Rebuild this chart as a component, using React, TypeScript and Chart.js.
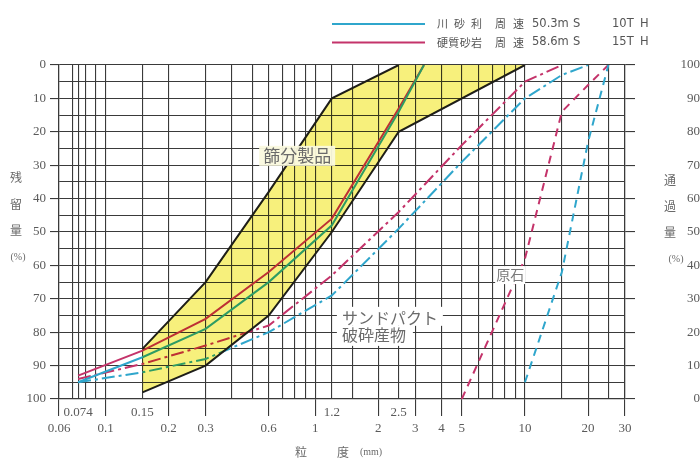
import React, { useEffect, useRef } from 'react';
import { Chart, registerables } from 'chart.js';

Chart.register(...registerables);

// ---- axis values ----
const gridSizes = [0.06, 0.07, 0.074, 0.08, 0.09, 0.1, 0.15, 0.2, 0.3, 0.4, 0.5, 0.6, 0.7, 0.8, 0.9, 1, 1.2, 1.5, 2, 2.5, 3, 4, 5, 6, 7, 8, 9, 10, 15, 20, 25, 30];
const lowerRowLabels = ['0.06', '0.1', '0.2', '0.3', '0.6', '1', '2', '3', '4', '5', '10', '20', '30'];
const upperRowLabels = ['0.074', '0.15', '1.2', '2.5'];
const percentGrid = [0, 5, 10, 15, 20, 25, 30, 35, 40, 45, 50, 55, 60, 65, 70, 75, 80, 85, 90, 95, 100];

// ---- 篩分製品 band (retained %) ----
const bandUpperSizes = [0.15, 0.3, 0.6, 1.2, 2.5];
const bandUpperRetained = [85, 65, 38, 10, 0];
const bandLowerSizes = [0.15, 0.3, 0.6, 1.2, 2.5, 10];
const bandLowerRetained = [98, 90, 75, 50, 20, 0];

// ---- 川砂利 (cyan) ----
const riverProductSizes = [0.074, 0.15, 0.3, 0.6, 1.2, 2.5, 3.3];
const riverProductRetained = [95, 87.5, 79, 65, 48, 14, 0];
const riverCrushedSizes = [0.074, 0.15, 0.3, 0.6, 1.2, 2.5, 5, 10, 15, 20];
const riverCrushedRetained = [95, 92, 88, 80, 69, 49, 29, 10, 3, 0];
const riverRawSizes = [10, 15, 20, 25];
const riverRawRetained = [95, 62, 23, 0];

// ---- 硬質砂岩 (magenta) ----
const stoneProductSizes = [0.074, 0.15, 0.3, 0.6, 1.2, 2.5, 3.3];
const stoneProductRetained = [93, 85.5, 76, 62, 46, 13, 0];
const stoneCrushedSizes = [0.074, 0.15, 0.3, 0.6, 1.2, 2.5, 5, 10, 15];
const stoneCrushedRetained = [94, 89.5, 84, 78, 63, 44, 24, 5, 0];
const stoneRawSizes = [5, 10, 15, 20, 25];
const stoneRawRetained = [100, 58, 14, 6, 0];

// ---- legend text ----
const legendNames = ['川砂利', '硬質砂岩'];
const legendSpeeds = ['50.3m', '58.6m'];
const legendRates = ['10T', '15T'];

const CYAN = '#2fa6cc';
const MAGENTA = '#c4336a';
const BLACK = '#1e1e1e';
const GRID = '#3a3a3a';
const TEXT = '#5a5a5a';
const JP = '"Noto Sans CJK JP", sans-serif';
const SERIF = '"Liberation Serif", serif';

const pts = (xs: number[], ys: number[]) => xs.map((x, i) => ({ x, y: ys[i] }));

function spread(ctx: CanvasRenderingContext2D, text: string, x0: number, x1: number, y: number) {
  const chars = Array.from(text);
  const w = chars.map((c) => ctx.measureText(c).width);
  const total = w.reduce((a, b) => a + b, 0);
  const gap = chars.length > 1 ? (x1 - x0 - total) / (chars.length - 1) : 0;
  let x = x0;
  chars.forEach((c, i) => {
    ctx.fillText(c, x, y);
    x += w[i] + gap;
  });
}

function vertical(ctx: CanvasRenderingContext2D, chars: string[], x: number, ys: number[]) {
  chars.forEach((c, i) => ctx.fillText(c, x, ys[i]));
}

const bandPlugin = {
  id: 'bandAndNotes',
  afterDatasetsDraw(chart: any) {
    const { ctx, scales } = chart;
    const x = scales.x;
    const y = scales.y;
    ctx.save();
    ctx.globalCompositeOperation = 'multiply';
    ctx.fillStyle = '#f7f07c';
    ctx.beginPath();
    bandUpperSizes.forEach((s, i) => {
      const px = x.getPixelForValue(s);
      const py = y.getPixelForValue(bandUpperRetained[i]);
      if (i === 0) ctx.moveTo(px, py);
      else ctx.lineTo(px, py);
    });
    for (let i = bandLowerSizes.length - 1; i >= 0; i--) {
      ctx.lineTo(x.getPixelForValue(bandLowerSizes[i]), y.getPixelForValue(bandLowerRetained[i]));
    }
    ctx.closePath();
    ctx.fill();
    ctx.restore();

    ctx.save();
    ctx.textBaseline = 'middle';
    // 篩分製品
    ctx.font = `17px ${JP}`;
    const cx = x.getPixelForValue(0.82);
    const cy = y.getPixelForValue(27.2);
    ctx.fillStyle = 'rgba(250,249,222,0.95)';
    ctx.fillRect(cx - 38, cy - 10, 76, 20);
    ctx.fillStyle = '#6a6a6a';
    ctx.textAlign = 'center';
    ctx.fillText('篩分製品', cx, cy);

    // サンドパクト 破砕産物
    const lx = x.getPixelForValue(1.34);
    const ly1 = y.getPixelForValue(75.7);
    const ly2 = y.getPixelForValue(80.8);
    ctx.fillStyle = '#ffffff';
    ctx.fillRect(lx - 5, ly1 - 11, 106, 19);
    ctx.fillRect(lx - 5, ly2 - 9, 76, 20);
    ctx.fillStyle = '#6a6a6a';
    ctx.textAlign = 'left';
    ctx.font = `16px ${JP}`;
    ctx.fillText('サンドパクト', lx, ly1);
    ctx.fillText('破砕産物', lx, ly2);

    // 原石
    const rx = x.getPixelForValue(8.5);
    const ry = y.getPixelForValue(62.9);
    ctx.fillStyle = '#ffffff';
    ctx.fillRect(rx - 15, ry - 9, 30, 18);
    ctx.fillStyle = '#7a7a7a';
    ctx.textAlign = 'center';
    ctx.font = `14px ${JP}`;
    ctx.fillText('原石', rx, ry);
    ctx.restore();
  },
  afterDraw(chart: any) {
    const ctx: CanvasRenderingContext2D = chart.ctx;
    ctx.save();
    ctx.textBaseline = 'middle';
    const colors = [CYAN, MAGENTA];
    legendNames.forEach((name, i) => {
      const yy = 24 + i * 18.5;
      ctx.strokeStyle = colors[i];
      ctx.lineWidth = 2;
      ctx.beginPath();
      ctx.moveTo(332, yy);
      ctx.lineTo(425, yy);
      ctx.stroke();
      ctx.fillStyle = '#555555';
      ctx.font = `11px ${JP}`;
      ctx.textAlign = 'left';
      spread(ctx, name, 437, 482, yy);
      spread(ctx, '周速', 495, 524, yy);
      ctx.font = `11.5px "DejaVu Sans", sans-serif`;
      ctx.fillText(legendSpeeds[i], 532, yy);
      ctx.fillText('S', 573, yy);
      ctx.fillText(legendRates[i], 612, yy);
      ctx.fillText('H', 640, yy);
    });

    // axis titles
    ctx.fillStyle = '#6a6a6a';
    ctx.textAlign = 'center';
    ctx.font = `12px ${JP}`;
    vertical(ctx, ['残', '留', '量'], 16, [177, 204, 230]);
    vertical(ctx, ['通', '過', '量'], 670, [180, 206, 232]);
    ctx.font = `10px ${SERIF}`;
    ctx.fillText('(%)', 18, 257);
    ctx.fillText('(%)', 676, 259);
    ctx.font = `12px ${JP}`;
    ctx.fillText('粒', 301, 452);
    ctx.fillText('度', 343, 452);
    ctx.font = `10px ${SERIF}`;
    ctx.fillText('(mm)', 371, 452);
    ctx.restore();
  },
};

export default function App() {
  const ref = useRef<HTMLCanvasElement | null>(null);

  useEffect(() => {
    if (!ref.current) return;
    const line = (data: any, color: string, dash: number[] = [], width = 2) => ({
      data,
      borderColor: color,
      borderWidth: width,
      borderDash: dash,
      pointRadius: 0,
      fill: false,
      tension: 0,
    });
    const chart = new Chart(ref.current, {
      type: 'line',
      data: {
        datasets: [
          line(pts(bandUpperSizes, bandUpperRetained), BLACK, [], 2),
          line(pts(bandLowerSizes, bandLowerRetained), BLACK, [], 2),
          line(pts(riverProductSizes, riverProductRetained), CYAN),
          line(pts(stoneProductSizes, stoneProductRetained), MAGENTA),
          line(pts(riverCrushedSizes, riverCrushedRetained), CYAN, [13, 4, 3, 4]),
          line(pts(stoneCrushedSizes, stoneCrushedRetained), MAGENTA, [13, 4, 3, 4]),
          line(pts(riverRawSizes, riverRawRetained), CYAN, [8, 6]),
          line(pts(stoneRawSizes, stoneRawRetained), MAGENTA, [8, 6]),
        ] as any,
      },
      options: {
        responsive: false,
        animation: false,
        events: [],
        layout: { padding: { top: 65, left: 0, right: 0, bottom: 0 } },
        plugins: { legend: { display: false }, tooltip: { enabled: false } },
        scales: {
          x: {
            type: 'logarithmic',
            min: 0.06,
            max: 30,
            afterBuildTicks: (scale: any) => {
              scale.ticks = gridSizes.map((v) => ({ value: v }));
            },
            afterFit: (scale: any) => {
              scale.height = 72;
            },
            grid: {
              color: GRID,
              lineWidth: 1.1,
              tickLength: 17,
              tickColor: (c: any) => (c.tick && lowerRowLabels.includes(String(c.tick.value)) ? GRID : 'rgba(0,0,0,0)'),
            },
            border: { color: GRID, width: 1.2 },
            ticks: {
              autoSkip: false,
              maxRotation: 0,
              minRotation: 0,
              padding: -11,
              color: TEXT,
              font: { family: SERIF, size: 13, lineHeight: '16px' } as any,
              callback: (value: any) => {
                const s = String(value);
                if (upperRowLabels.includes(s)) return s;
                if (lowerRowLabels.includes(s)) return ['', s];
                return '';
              },
            },
          },
          y: {
            type: 'linear',
            position: 'left',
            reverse: true,
            min: 0,
            max: 100,
            afterBuildTicks: (scale: any) => {
              scale.ticks = percentGrid.map((v) => ({ value: v }));
            },
            afterFit: (scale: any) => {
              scale.width = 59;
            },
            grid: {
              color: GRID,
              lineWidth: 1.1,
              tickLength: 9,
              tickColor: (c: any) => (c.tick && c.tick.value % 10 === 0 ? GRID : 'rgba(0,0,0,0)'),
            },
            border: { color: GRID, width: 1.2 },
            ticks: {
              autoSkip: false,
              padding: 4,
              color: TEXT,
              font: { family: SERIF, size: 13 },
              callback: (v: any) => (Number(v) % 10 === 0 ? String(v) : ''),
            },
          },
          y2: {
            type: 'linear',
            position: 'right',
            min: 0,
            max: 100,
            afterFit: (scale: any) => {
              scale.width = 75;
            },
            grid: { drawOnChartArea: false, color: GRID, tickLength: 10, lineWidth: 1.1 },
            border: { color: GRID, width: 1.2 },
            ticks: {
              stepSize: 10,
              padding: 4,
              crossAlign: 'far',
              color: TEXT,
              font: { family: SERIF, size: 13 },
            },
          },
        },
      } as any,
      plugins: [bandPlugin],
    });
    return () => chart.destroy();
  }, []);

  return (
    <div style={{ position: 'absolute', left: 0, top: 0, width: 700, height: 471, background: '#fff' }}>
      <canvas ref={ref} width={700} height={471} style={{ width: 700, height: 471 }} />
    </div>
  );
}
